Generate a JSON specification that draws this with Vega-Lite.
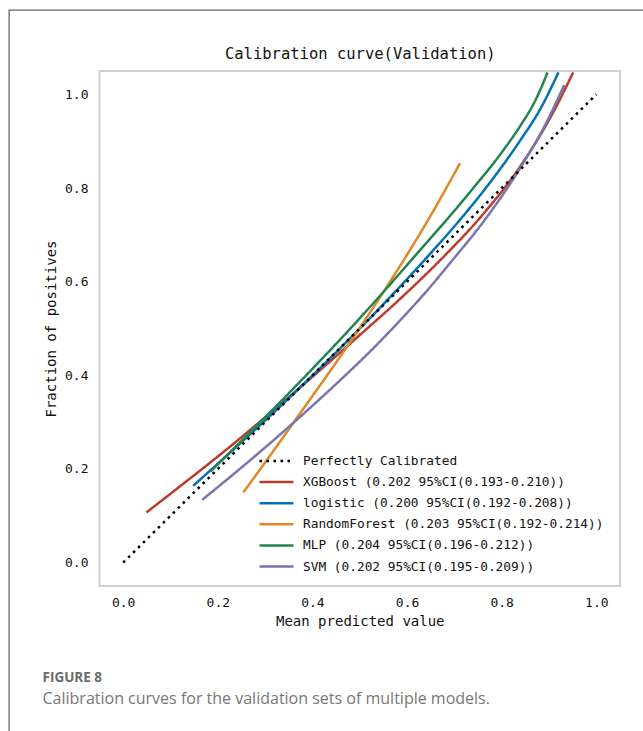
{
  "$schema": "https://vega.github.io/schema/vega-lite/v6.json",
  "width": 520.5,
  "height": 515,
  "autosize": {"type": "none"},
  "padding": {"left": 99.5, "top": 71, "right": 23, "bottom": 145},
  "background": "white",
  "config": {
    "view": {"stroke": "#cfcfcf", "strokeWidth": 2},
    "axis": {
      "grid": false, "ticks": false, "domain": false,
      "labelFont": "DejaVu Sans Mono", "labelFontSize": 13, "labelColor": "#111111",
      "titleFont": "DejaVu Sans Mono", "titleFontSize": 14, "titleFontWeight": "normal", "titleColor": "#111111"
    }
  },
  "title": {
    "text": "FIGURE 8",
    "subtitle": "Calibration curves for the validation sets of multiple models.",
    "orient": "bottom", "anchor": "start", "frame": "group",
    "offset": -70, "dx": -57,
    "font": "Open Sans", "fontSize": 13.5, "fontWeight": "bold", "color": "#6b6b6b",
    "subtitleFont": "Open Sans", "subtitleFontSize": 16, "subtitleColor": "#777777", "subtitlePadding": 6
  },
  "datasets": {
    "curves": [
      {"model": "XGBoost (0.202 95%CI(0.193-0.210))", "x": 0.049, "y": 0.107},
      {"model": "XGBoost (0.202 95%CI(0.193-0.210))", "x": 0.119, "y": 0.162},
      {"model": "XGBoost (0.202 95%CI(0.193-0.210))", "x": 0.225, "y": 0.247},
      {"model": "XGBoost (0.202 95%CI(0.193-0.210))", "x": 0.331, "y": 0.337},
      {"model": "XGBoost (0.202 95%CI(0.193-0.210))", "x": 0.415, "y": 0.41},
      {"model": "XGBoost (0.202 95%CI(0.193-0.210))", "x": 0.5, "y": 0.486},
      {"model": "XGBoost (0.202 95%CI(0.193-0.210))", "x": 0.585, "y": 0.563},
      {"model": "XGBoost (0.202 95%CI(0.193-0.210))", "x": 0.674, "y": 0.65},
      {"model": "XGBoost (0.202 95%CI(0.193-0.210))", "x": 0.758, "y": 0.741},
      {"model": "XGBoost (0.202 95%CI(0.193-0.210))", "x": 0.839, "y": 0.846},
      {"model": "XGBoost (0.202 95%CI(0.193-0.210))", "x": 0.909, "y": 0.962},
      {"model": "XGBoost (0.202 95%CI(0.193-0.210))", "x": 0.951, "y": 1.047},
      {"model": "logistic (0.200 95%CI(0.192-0.208))", "x": 0.148, "y": 0.164},
      {"model": "logistic (0.200 95%CI(0.192-0.208))", "x": 0.25, "y": 0.257},
      {"model": "logistic (0.200 95%CI(0.192-0.208))", "x": 0.35, "y": 0.351},
      {"model": "logistic (0.200 95%CI(0.192-0.208))", "x": 0.45, "y": 0.449},
      {"model": "logistic (0.200 95%CI(0.192-0.208))", "x": 0.55, "y": 0.552},
      {"model": "logistic (0.200 95%CI(0.192-0.208))", "x": 0.65, "y": 0.661},
      {"model": "logistic (0.200 95%CI(0.192-0.208))", "x": 0.72, "y": 0.742},
      {"model": "logistic (0.200 95%CI(0.192-0.208))", "x": 0.78, "y": 0.818},
      {"model": "logistic (0.200 95%CI(0.192-0.208))", "x": 0.84, "y": 0.903},
      {"model": "logistic (0.200 95%CI(0.192-0.208))", "x": 0.88, "y": 0.966},
      {"model": "logistic (0.200 95%CI(0.192-0.208))", "x": 0.92, "y": 1.047},
      {"model": "RandomForest (0.203 95%CI(0.192-0.214))", "x": 0.254, "y": 0.15},
      {"model": "RandomForest (0.203 95%CI(0.192-0.214))", "x": 0.32, "y": 0.242},
      {"model": "RandomForest (0.203 95%CI(0.192-0.214))", "x": 0.379, "y": 0.326},
      {"model": "RandomForest (0.203 95%CI(0.192-0.214))", "x": 0.458, "y": 0.439},
      {"model": "RandomForest (0.203 95%CI(0.192-0.214))", "x": 0.55, "y": 0.578},
      {"model": "RandomForest (0.203 95%CI(0.192-0.214))", "x": 0.644, "y": 0.731},
      {"model": "RandomForest (0.203 95%CI(0.192-0.214))", "x": 0.712, "y": 0.853},
      {"model": "MLP (0.204 95%CI(0.196-0.212))", "x": 0.185, "y": 0.195},
      {"model": "MLP (0.204 95%CI(0.196-0.212))", "x": 0.25, "y": 0.26},
      {"model": "MLP (0.204 95%CI(0.196-0.212))", "x": 0.33, "y": 0.341},
      {"model": "MLP (0.204 95%CI(0.196-0.212))", "x": 0.4, "y": 0.414},
      {"model": "MLP (0.204 95%CI(0.196-0.212))", "x": 0.46, "y": 0.478},
      {"model": "MLP (0.204 95%CI(0.196-0.212))", "x": 0.55, "y": 0.578},
      {"model": "MLP (0.204 95%CI(0.196-0.212))", "x": 0.627, "y": 0.667},
      {"model": "MLP (0.204 95%CI(0.196-0.212))", "x": 0.686, "y": 0.735},
      {"model": "MLP (0.204 95%CI(0.196-0.212))", "x": 0.74, "y": 0.8},
      {"model": "MLP (0.204 95%CI(0.196-0.212))", "x": 0.8, "y": 0.876},
      {"model": "MLP (0.204 95%CI(0.196-0.212))", "x": 0.84, "y": 0.934},
      {"model": "MLP (0.204 95%CI(0.196-0.212))", "x": 0.87, "y": 0.985},
      {"model": "MLP (0.204 95%CI(0.196-0.212))", "x": 0.897, "y": 1.047},
      {"model": "SVM (0.202 95%CI(0.195-0.209))", "x": 0.167, "y": 0.134},
      {"model": "SVM (0.202 95%CI(0.195-0.209))", "x": 0.25, "y": 0.203},
      {"model": "SVM (0.202 95%CI(0.195-0.209))", "x": 0.331, "y": 0.273},
      {"model": "SVM (0.202 95%CI(0.195-0.209))", "x": 0.4, "y": 0.335},
      {"model": "SVM (0.202 95%CI(0.195-0.209))", "x": 0.458, "y": 0.389},
      {"model": "SVM (0.202 95%CI(0.195-0.209))", "x": 0.52, "y": 0.449},
      {"model": "SVM (0.202 95%CI(0.195-0.209))", "x": 0.585, "y": 0.517},
      {"model": "SVM (0.202 95%CI(0.195-0.209))", "x": 0.65, "y": 0.59},
      {"model": "SVM (0.202 95%CI(0.195-0.209))", "x": 0.691, "y": 0.64},
      {"model": "SVM (0.202 95%CI(0.195-0.209))", "x": 0.765, "y": 0.733},
      {"model": "SVM (0.202 95%CI(0.195-0.209))", "x": 0.833, "y": 0.833},
      {"model": "SVM (0.202 95%CI(0.195-0.209))", "x": 0.896, "y": 0.943},
      {"model": "SVM (0.202 95%CI(0.195-0.209))", "x": 0.932, "y": 1.02},
      {"model": "Perfectly Calibrated", "x": 0, "y": 0},
      {"model": "Perfectly Calibrated", "x": 1, "y": 1}
    ]
  },
  "layer": [
    {
      "data": {"name": "curves"},
      "mark": {"type": "line", "strokeWidth": 2.5, "strokeCap": "butt", "interpolate": "monotone"},
      "encoding": {
        "x": {
          "field": "x", "type": "quantitative",
          "scale": {"domain": [-0.05, 1.05], "nice": false, "zero": false},
          "axis": {"title": "Mean predicted value", "values": [0, 0.2, 0.4, 0.6, 0.8, 1], "format": ".1f", "labelPadding": 10.5, "titlePadding": 5}
        },
        "y": {
          "field": "y", "type": "quantitative",
          "scale": {"domain": [-0.05, 1.05], "nice": false, "zero": false},
          "axis": {"title": "Fraction of positives", "values": [0, 0.2, 0.4, 0.6, 0.8, 1], "format": ".1f", "labelPadding": 11.5, "titlePadding": 6}
        },
        "color": {
          "field": "model", "type": "nominal",
          "scale": {
            "domain": ["Perfectly Calibrated", "XGBoost (0.202 95%CI(0.193-0.210))", "logistic (0.200 95%CI(0.192-0.208))", "RandomForest (0.203 95%CI(0.192-0.214))", "MLP (0.204 95%CI(0.196-0.212))", "SVM (0.202 95%CI(0.195-0.209))"],
            "range": ["#000000", "#BC3C29", "#0072B5", "#E18727", "#20854E", "#7876B1"]
          },
          "legend": {
            "title": null, "orient": "none", "legendX": 167, "legendY": 380,
            "symbolType": "M-2,0H2", "symbolSize": 289, "symbolStrokeWidth": 2.5,
            "labelFont": "DejaVu Sans Mono", "labelFontSize": 12.8, "labelColor": "#111111",
            "labelOffset": 16.5, "rowPadding": 4.1, "padding": 0, "labelLimit": 500
          }
        },
        "strokeDash": {
          "field": "model", "type": "nominal",
          "scale": {
            "domain": ["Perfectly Calibrated", "XGBoost (0.202 95%CI(0.193-0.210))", "logistic (0.200 95%CI(0.192-0.208))", "RandomForest (0.203 95%CI(0.192-0.214))", "MLP (0.204 95%CI(0.196-0.212))", "SVM (0.202 95%CI(0.195-0.209))"],
            "range": [[2.6, 4.4], [1, 0], [1, 0], [1, 0], [1, 0], [1, 0]]
          },
          "legend": {
            "title": null, "orient": "none", "legendX": 167, "legendY": 380,
            "symbolType": "M-2,0H2", "symbolSize": 289, "symbolStrokeWidth": 2.5,
            "labelFont": "DejaVu Sans Mono", "labelFontSize": 12.8, "labelColor": "#111111",
            "labelOffset": 16.5, "rowPadding": 4.1, "padding": 0, "labelLimit": 500
          }
        }
      }
    },
    {
      "data": {"values": [{}]},
      "mark": {"type": "rect", "fillOpacity": 0, "stroke": "#666666", "strokeWidth": 1.3},
      "encoding": {
        "x": {
          "datum": -0.241, "type": "quantitative",
          "axis": {"orient": "top", "title": "Calibration curve(Validation)", "labels": false, "ticks": false, "domain": false, "grid": false, "titleFontSize": 15.5, "titlePadding": 10}
        },
        "x2": {"datum": 1.5},
        "y": {"datum": 1.18, "type": "quantitative", "axis": null},
        "y2": {"datum": -0.38}
      }
    }
  ],
  "resolve": {"axis": {"x": "independent", "y": "independent"}}
}
